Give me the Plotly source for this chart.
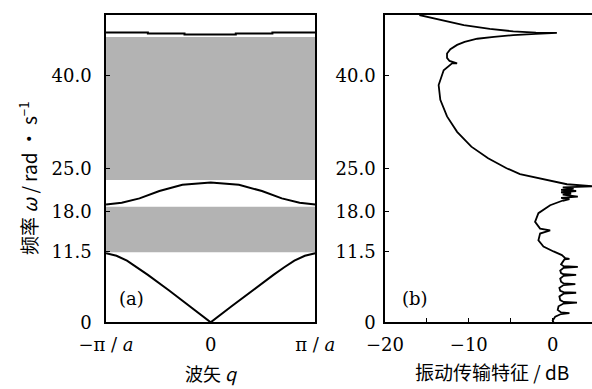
import plotly.graph_objects as go

# ---- (a) dispersion curves, q in units of pi/a ----
q_acoustic = [-1.0, -0.9, -0.8, -0.7, -0.6, -0.4, -0.2, 0.0, 0.2, 0.4, 0.6, 0.7, 0.8, 0.9, 1.0]
w_acoustic = [11.2, 10.8, 10.0, 8.9, 7.7, 5.2, 2.6, 0.0, 2.6, 5.2, 7.7, 8.9, 10.0, 10.8, 11.2]

q_optic = [-1.0, -0.85, -0.68, -0.49, -0.27, 0.0, 0.27, 0.49, 0.68, 0.85, 1.0]
w_optic = [19.1, 19.4, 20.1, 21.3, 22.3, 22.7, 22.3, 21.3, 20.1, 19.4, 19.1]

q_top = [-1.0, -0.6, -0.25, 0.24, 0.59, 1.0]
w_top = [47.0, 46.85, 46.7, 46.85, 47.0, 47.0]

# band gaps (shaded)
gap_low = [11.35, 23.1]
gap_high = [18.75, 46.3]

# ---- (b) vibration transmission, dB vs frequency ----
trans_db = [
    -15.9, -13.0, -10.6, -7.5, -4.7, -2.0, 0.5, -2.0, -4.7, -7.0, -9.0, -10.5, -11.4, -12.2,
    -12.6, -12.6, -12.3, -11.4, -12.0, -13.0, -13.6, -13.4, -12.6, -11.4, -9.7, -7.7, -5.5,
    -3.9, -1.5, 0.9, 1.7, 5.0, 1.2, 2.5, 1.0, 2.8, 1.0, 2.2, 1.2, 3.0, 1.0, 2.0, 1.2, 1.3,
    -0.3, -1.7, -2.1, -1.5, -0.3, -1.5, -1.7, -1.1, 0.1, 1.1, 1.5, 2.0, 1.4,
    1.2, 1.0, 1.3, 3.0, 1.3, 0.9, 1.0, 1.3, 2.8, 1.3, 0.9, 1.0, 1.3, 2.7, 1.3,
    0.8, 0.9, 1.3, 2.8, 1.3, 0.8, 0.9, 1.3, 2.9, 1.3, 0.7, 0.6, 1.0, 2.0, 1.0, 0.3, 0.0, 0.1,
]
trans_w = [
    49.85, 48.9, 48.2, 47.6, 47.2, 47.0, 46.95, 46.8, 46.6, 46.3, 46.0, 45.5, 45.0, 44.3,
    43.6, 42.9, 42.4, 42.0, 42.0, 40.9, 38.5, 36.1, 33.4, 30.9, 28.5, 26.6, 25.0,
    24.05, 23.35, 22.65, 22.4, 22.05, 21.9, 21.7, 21.5, 21.3, 21.1, 20.9, 20.7, 20.4, 20.2, 20.0, 19.7, 19.8,
    19.0, 17.7, 16.3, 15.2, 14.9, 14.4, 13.3, 12.3, 11.5, 10.9, 10.4, 10.3, 10.2,
    9.7, 9.4, 9.1, 9.0, 8.85, 8.4, 8.0, 7.8, 7.7, 7.55, 7.1, 6.6, 6.3, 6.2, 6.05,
    5.6, 5.1, 4.9, 4.8, 4.65, 4.2, 3.6, 3.3, 3.2, 3.05, 2.6, 2.0, 1.6, 1.5, 1.35, 0.9, 0.3, 0.0,
]

y_ticks = [0, 11.5, 18.0, 25.0, 40.0]
y_ticktext = ["0", "11.5", "18.0", "25.0", "40.0"]
q_ticks = [-1, 0, 1]
q_ticktext = ["−π / <i>a</i>", "0", "π / <i>a</i>"]
db_ticks = [-20, -10, 0]
db_ticktext = ["−20", "−10", "0"]
db_minor = [-15, -5]

SERIF = "DejaVu Serif"
CJK = "Noto Sans CJK SC"
BAND = "#b3b3b3"
W, H = 592, 389

fig = go.Figure()

for lo, hi in zip(gap_low, gap_high):
    fig.add_trace(go.Scatter(
        x=[-1, 1, 1, -1, -1], y=[lo, lo, hi, hi, lo],
        mode="lines", fill="toself", fillcolor=BAND, line=dict(width=0),
        hoverinfo="skip", showlegend=False, xaxis="x", yaxis="y"))

for qs, ws in [(q_acoustic, w_acoustic), (q_optic, w_optic)]:
    fig.add_trace(go.Scatter(x=qs, y=ws, mode="lines", line=dict(color="black", width=2),
                             showlegend=False, xaxis="x", yaxis="y"))

fig.add_trace(go.Scatter(x=q_top, y=w_top, mode="lines", line=dict(color="black", width=2, shape="hv"),
                         showlegend=False, xaxis="x", yaxis="y"))

fig.add_trace(go.Scatter(x=trans_db, y=trans_w, mode="lines", line=dict(color="black", width=1.8),
                         showlegend=False, xaxis="x2", yaxis="y2"))

tick_font = dict(family=SERIF, size=18, color="black")
y_dom = [0.1714, 0.9614]
common = dict(showgrid=False, zeroline=False, showline=True, linecolor="black", linewidth=1.5,
              tickfont=tick_font, tickcolor="black", automargin=False)

fig.update_layout(
    width=W, height=H, margin=dict(l=0, r=0, t=0, b=0, autoexpand=False),
    paper_bgcolor="white", plot_bgcolor="white",
    xaxis=dict(domain=[0.1791, 0.5326], range=[-1, 1], tickvals=q_ticks, ticktext=q_ticktext,
               ticks="", mirror=True, anchor="y", ticklabelstandoff=5, **common),
    yaxis=dict(domain=y_dom, range=[0, 49.85], tickvals=y_ticks, ticktext=y_ticktext,
               ticks="inside", ticklen=4, mirror=True, anchor="x", ticklabelstandoff=9, **common),
    xaxis2=dict(domain=[0.6503, 1.0], range=[-20, 4.69], tickvals=db_ticks, ticktext=db_ticktext,
                ticks="inside", ticklen=5, mirror=True, anchor="y2", ticklabelstandoff=5,
                minor=dict(tickvals=db_minor, ticks="inside", ticklen=5, tickcolor="black", showgrid=False),
                **common),
    yaxis2=dict(domain=y_dom, range=[0, 49.85], tickvals=y_ticks, ticktext=y_ticktext,
                ticks="inside", ticklen=4, mirror=False, anchor="x2", ticklabelstandoff=4, **common),
)


def px_note(text, x_px, y_px, family, size, angle=0):
    fig.add_annotation(text=text, textangle=angle, x=x_px / W, y=1 - y_px / H,
                       xref="paper", yref="paper", showarrow=False,
                       xanchor="center", yanchor="middle",
                       font=dict(family=family, size=size, color="black"))


px_note("频率 <i>ω</i> / rad · s<sup>−1</sup>", 28, 178, CJK, 19, angle=-90)
px_note("波矢 <i>q</i>", 211, 373, CJK, 18)
px_note("振动传输特征 / dB", 492, 371, CJK, 19)
px_note("(a)", 131, 298, SERIF, 18)
px_note("(b)", 415, 298, SERIF, 18)

fig.write_html("out.html")
